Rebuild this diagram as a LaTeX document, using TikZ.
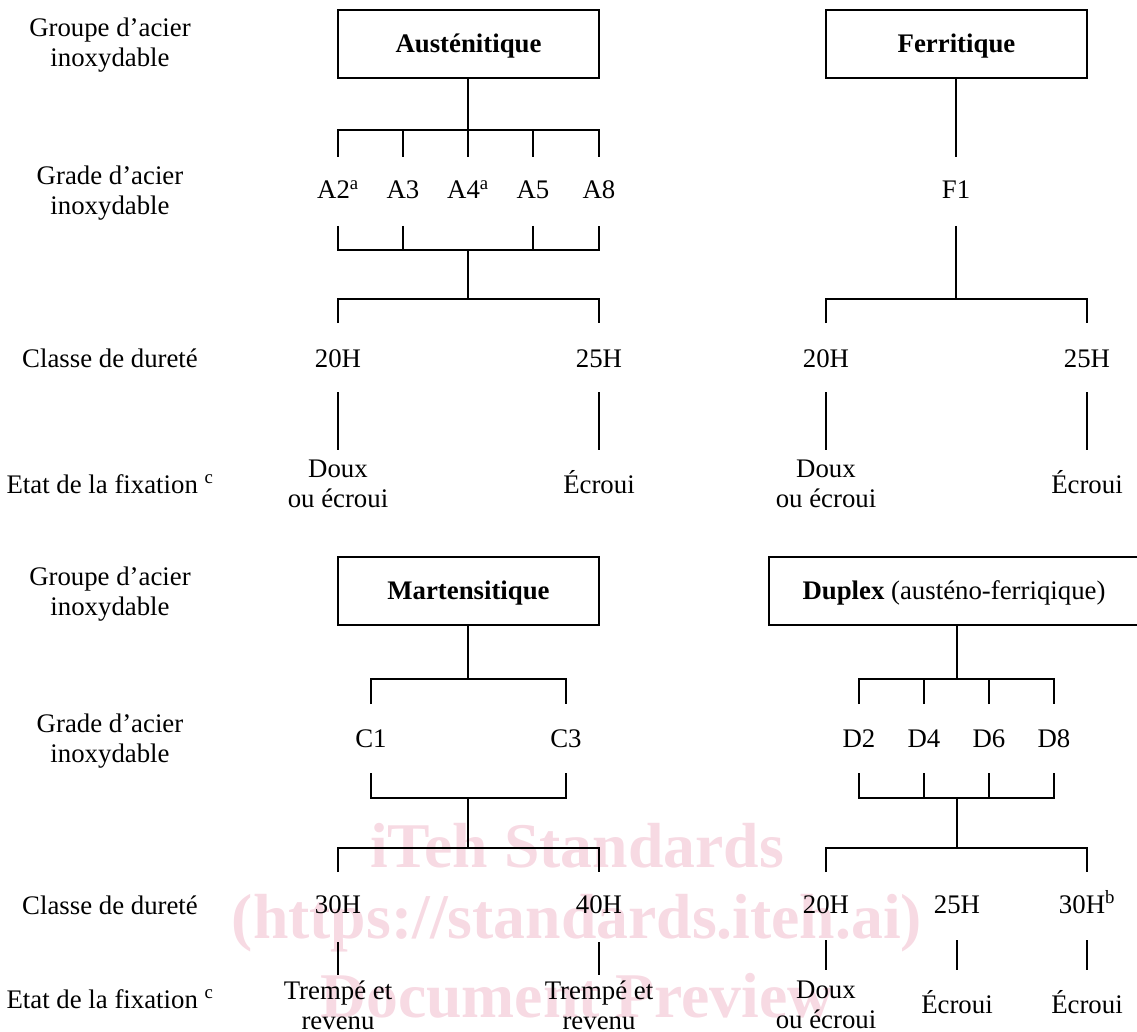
\documentclass[tikz,border=0pt]{standalone}
\usepackage{fontspec}
\setmainfont{Liberation Serif}
\definecolor{wmpink}{RGB}{247,218,227}
\newcommand\twoline[2]{\begin{tabular}[t]{@{}c@{}}#1\\#2\end{tabular}}
\begin{document}
\begin{tikzpicture}[x=1pt,y=-1pt,
  every node/.style={font=\fontsize{26.8}{30}\selectfont, inner sep=0pt, anchor=base},
  grpbox/.style={draw, line width=1.8pt, anchor=center, minimum height=68pt, text height=17.5pt, text depth=0pt},
  conn/.style={line width=1.8pt},
  wmtext/.style={text=wmpink, font=\fontsize{63.7}{70}\selectfont\bfseries}]
\useasboundingbox (0,0) rectangle (1137,1032);
\clip (0,0) rectangle (1137,1032);

% watermark
\node[wmtext] (wm1) at (577,867) {iTeh Standards};
\node[wmtext] (wm2) at (577,938) {(https://standards.iteh.ai)};
\node[wmtext] (wm3) at (577,1017) {Document Preview};

% left labels
\node (g1)  at (110,37)   {\twoline{Groupe d’acier}{inoxydable}};
\node (gr1) at (110,185)  {\twoline{Grade d’acier}{inoxydable}};
\node (cl1) at (110,367)  {Classe de dureté};
\node (et1) at (110,493)  {Etat de la fixation~\textsuperscript{c}};
\node (g2)  at (110,585)  {\twoline{Groupe d’acier}{inoxydable}};
\node (gr2) at (110,732)  {\twoline{Grade d’acier}{inoxydable}};
\node (cl2) at (110,914)  {Classe de dureté};
\node (et2) at (110,1008) {Etat de la fixation~\textsuperscript{c}};

% ===== Austenitique =====
\node[grpbox, minimum width=261pt] (aus) at (468.5,44) {\textbf{Austénitique}};
\node (A2) at (338,199) {A2\textsuperscript{a}};
\node (A3) at (403,199) {A3};
\node (A4) at (468,199) {A4\textsuperscript{a}};
\node (A5) at (533,199) {A5};
\node (A8) at (599,199) {A8};
\foreach \n/\x in {A2/338,A3/403,A4/468,A5/533,A8/599}{
  \coordinate (\n-u) at (\x,157);
  \coordinate (\n-d) at (\x,226);
}
\coordinate (ausJ) at (468,130);
\coordinate (ausK) at (468,250);
\coordinate (ausL) at (468,299);
\draw[conn] (ausJ |- aus.south) -- (ausJ);
\draw[conn] (A2-u) |- (ausJ) -| (A8-u);
\draw[conn] (A3-u) -- (A3-u |- ausJ);
\draw[conn] (A4-u) -- (ausJ);
\draw[conn] (A5-u) -- (A5-u |- ausJ);
\draw[conn] (A2-d) |- (ausK) -| (A8-d);
\draw[conn] (A3-d) -- (A3-d |- ausK);
\draw[conn] (A5-d) -- (A5-d |- ausK);
\draw[conn] (ausK) -- (ausL);
\node (ha20) at (338,367) {20H};
\node (ha25) at (599,367) {25H};
\coordinate (ha20-u) at (338,323); \coordinate (ha25-u) at (599,323);
\coordinate (ha20-d) at (338,392); \coordinate (ha25-d) at (599,392);
\draw[conn] (ha20-u) |- (ausL) -| (ha25-u);
\node (sa1) at (338,477) {\twoline{Doux}{ou écroui}};
\node (sa2) at (599,493) {Écroui};
\coordinate (sa1-u) at (338,450); \coordinate (sa2-u) at (599,450);
\draw[conn] (ha20-d) -- (sa1-u);
\draw[conn] (ha25-d) -- (sa2-u);

% ===== Ferritique =====
\node[grpbox, minimum width=261pt] (fer) at (956.5,44) {\textbf{Ferritique}};
\node (F1) at (956,199) {F1};
\coordinate (F1-u) at (956,157);
\coordinate (F1-d) at (956,226);
\coordinate (ferJ) at (956,299);
\draw[conn] (F1-u |- fer.south) -- (F1-u);
\draw[conn] (F1-d) -- (ferJ);
\node (hf20) at (826,367) {20H};
\node (hf25) at (1087,367) {25H};
\coordinate (hf20-u) at (826,323); \coordinate (hf25-u) at (1087,323);
\coordinate (hf20-d) at (826,392); \coordinate (hf25-d) at (1087,392);
\draw[conn] (hf20-u) |- (ferJ) -| (hf25-u);
\node (sf1) at (826,477) {\twoline{Doux}{ou écroui}};
\node (sf2) at (1087,493) {Écroui};
\coordinate (sf1-u) at (826,450); \coordinate (sf2-u) at (1087,450);
\draw[conn] (hf20-d) -- (sf1-u);
\draw[conn] (hf25-d) -- (sf2-u);

% ===== Martensitique =====
\node[grpbox, minimum width=261pt] (mar) at (468.5,591) {\textbf{Martensitique}};
\node (C1) at (371,747) {C1};
\node (C3) at (566,747) {C3};
\foreach \n/\x in {C1/371,C3/566}{
  \coordinate (\n-u) at (\x,704);
  \coordinate (\n-d) at (\x,773);
}
\coordinate (marJ) at (468,679);
\coordinate (marK) at (468,798);
\coordinate (marL) at (468,848);
\draw[conn] (marJ |- mar.south) -- (marJ);
\draw[conn] (C1-u) |- (marJ) -| (C3-u);
\draw[conn] (C1-d) |- (marK) -| (C3-d);
\draw[conn] (marK) -- (marL);
\node (hm30) at (338,913) {30H};
\node (hm40) at (599,913) {40H};
\coordinate (hm30-u) at (338,872); \coordinate (hm40-u) at (599,872);
\coordinate (hm30-d) at (338,942); \coordinate (hm40-d) at (599,942);
\draw[conn] (hm30-u) |- (marL) -| (hm40-u);
\node (sm1) at (338,999) {\twoline{Trempé et}{revenu}};
\node (sm2) at (599,999) {\twoline{Trempé et}{revenu}};
\coordinate (sm1-u) at (338,975); \coordinate (sm2-u) at (599,975);
\draw[conn] (hm30-d) -- (sm1-u);
\draw[conn] (hm40-d) -- (sm2-u);

% ===== Duplex =====
\node[grpbox, minimum width=370pt] (dup) at (954,591) {\textbf{Duplex} (austéno-ferriqique)};
\node (D2) at (859,747) {D2};
\node (D4) at (924,747) {D4};
\node (D6) at (989,747) {D6};
\node (D8) at (1054,747) {D8};
\foreach \n/\x in {D2/859,D4/924,D6/989,D8/1054}{
  \coordinate (\n-u) at (\x,704);
  \coordinate (\n-d) at (\x,773);
}
\coordinate (dupJ) at (957,679);
\coordinate (dupK) at (957,798);
\coordinate (dupL) at (957,848);
\draw[conn] (dupJ |- dup.south) -- (dupJ);
\draw[conn] (D2-u) |- (dupJ) -| (D8-u);
\draw[conn] (D4-u) -- (D4-u |- dupJ);
\draw[conn] (D6-u) -- (D6-u |- dupJ);
\draw[conn] (D2-d) |- (dupK) -| (D8-d);
\draw[conn] (D4-d) -- (D4-d |- dupK);
\draw[conn] (D6-d) -- (D6-d |- dupK);
\draw[conn] (dupK) -- (dupL);
\node (hd20) at (826,913)  {20H};
\node (hd25) at (957,913)  {25H};
\node (hd30) at (1087,913) {30H\textsuperscript{b}};
\coordinate (hd20-u) at (826,872); \coordinate (hd30-u) at (1087,872);
\foreach \n/\x in {hd20/826,hd25/957,hd30/1087}{
  \coordinate (\n-d) at (\x,940);
}
\draw[conn] (hd20-u) |- (dupL) -| (hd30-u);
\node (sd1) at (826,998)  {\twoline{Doux}{ou écroui}};
\node (sd2) at (957,1013) {Écroui};
\node (sd3) at (1087,1013) {Écroui};
\coordinate (sd1-u) at (826,970); \coordinate (sd2-u) at (957,970); \coordinate (sd3-u) at (1087,970);
\draw[conn] (hd20-d) -- (sd1-u);
\draw[conn] (hd25-d) -- (sd2-u);
\draw[conn] (hd30-d) -- (sd3-u);
\end{tikzpicture}
\end{document}
